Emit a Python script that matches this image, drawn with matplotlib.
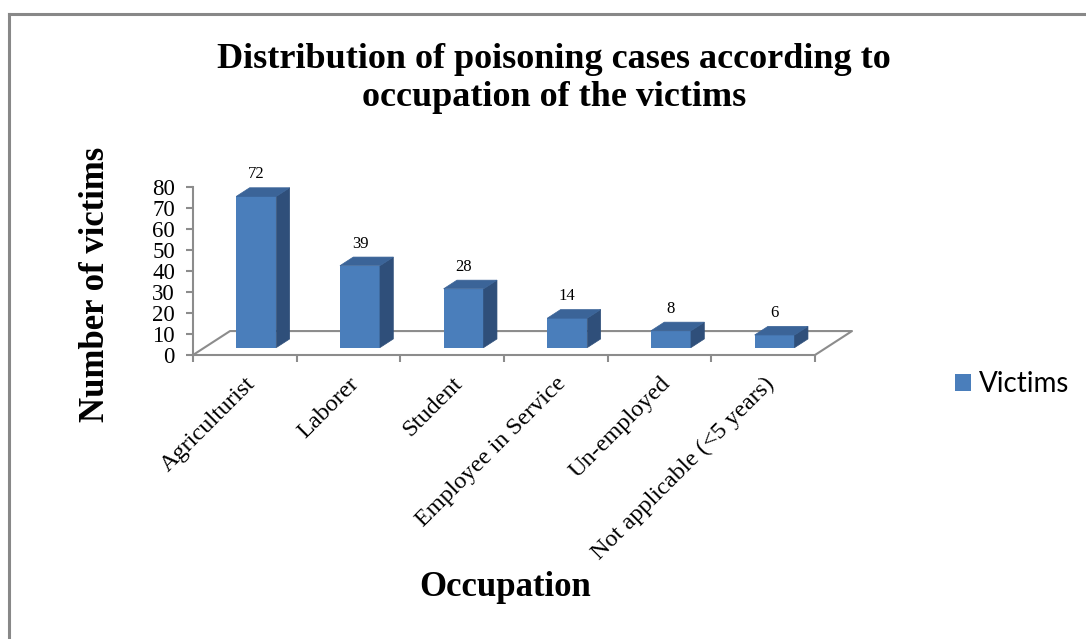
import matplotlib.pyplot as plt
from matplotlib.patches import Polygon
from matplotlib.lines import Line2D
import numpy as np

categories = ["Agriculturist", "Laborer", "Student", "Employee in Service",
              "Un-employed", "Not applicable (<5 years)"]
victims = [72, 39, 28, 14, 8, 6]
yticks = [0, 10, 20, 30, 40, 50, 60, 70, 80]

FRONT = "#4A7EBB"
SIDE = "#2F4F7A"
TOP = "#3B6498"
GREY = "#8C8C8C"

# fake 3d: floor depth vector in data units, and bar slice of that depth
DX, DY = 0.357, 11.4
D0, D1 = 0.31, 0.67
BW = 0.386

plt.rcParams["font.family"] = ["Liberation Serif", "DejaVu Serif"]

W, H = 1086, 639
fig = plt.figure(figsize=(W / 100, H / 100), dpi=100)
ax = fig.add_axes([193 / W, 1 - 355 / H, 622 / W, 168 / H])
n = len(categories)
ax.set_xlim(0, n)
ax.set_ylim(0, 80)

# floor outline
ax.plot([0, DX, n + DX, n], [0, DY, DY, 0], color=GREY, lw=1.5,
        clip_on=False, zorder=1)

xs = np.arange(n) + 0.5 - BW / 2
vals = np.array(victims)
ddx, ddy = (D1 - D0) * DX, (D1 - D0) * DY
bars = ax.bar(xs + D0 * DX, vals, width=BW, bottom=D0 * DY, align="edge",
              color=FRONT, zorder=3, label="Victims")
for x, v in zip(xs, vals):
    x0, y0 = x + D0 * DX, D0 * DY
    side = [(x0 + BW, y0), (x0 + BW + ddx, y0 + ddy),
            (x0 + BW + ddx, y0 + v + ddy), (x0 + BW, y0 + v)]
    top = [(x0, y0 + v), (x0 + ddx, y0 + v + ddy),
           (x0 + BW + ddx, y0 + v + ddy), (x0 + BW, y0 + v)]
    ax.add_patch(Polygon(side, facecolor=SIDE, edgecolor=SIDE, lw=0.5, zorder=3, clip_on=False))
    ax.add_patch(Polygon(top, facecolor=TOP, edgecolor=TOP, lw=0.5, zorder=3, clip_on=False))
    ax.annotate(str(v), (x0 + BW / 2, y0 + v + ddy), xytext=(0, 4),
                textcoords="offset points", ha="center", va="bottom",
                fontsize=12, annotation_clip=False)

for s in ["top", "right"]:
    ax.spines[s].set_visible(False)
for s in ["left", "bottom"]:
    ax.spines[s].set_color(GREY)
    ax.spines[s].set_linewidth(1.5)

ax.set_yticks(yticks)
ax.tick_params(axis="y", direction="out", length=5, width=1.5, color=GREY,
               labelsize=16.5, pad=8)
ax.set_xticks(range(n + 1))
ax.set_xticklabels([])
ax.tick_params(axis="x", which="major", direction="out", length=5, width=1.5, color=GREY)
ax.set_xticks(np.arange(n) + 0.5, minor=True)
ax.set_xticklabels(categories, minor=True, rotation=45, ha="right",
                   rotation_mode="anchor", fontsize=17.5)
ax.tick_params(axis="x", which="minor", length=0, pad=13)

fig.text(554 / W, 1 - 60 / H, "Distribution of poisoning cases according to",
         ha="center", va="center", fontsize=26, weight="bold")
fig.text(554 / W, 1 - 98 / H, "occupation of the victims",
         ha="center", va="center", fontsize=26, weight="bold")
fig.text(96 / W, 1 - 284 / H, "Number of victims", rotation=90,
         ha="center", va="center", fontsize=25, weight="bold")
fig.text(505 / W, 1 - 587 / H, "Occupation",
         ha="center", va="center", fontsize=25, weight="bold")

fig.legend(handles=[bars], loc="center left", bbox_to_anchor=(955 / W, 1 - 384 / H),
           frameon=False, borderpad=0, borderaxespad=0, handlelength=0.58,
           handleheight=0.58, handletextpad=0.28, prop={"family": "Lato", "size": 20})

# chart area border (only left and top edges show in the crop)
fig.add_artist(Line2D([9 / W, 9 / W], [0, 1 - 14 / H], transform=fig.transFigure,
                      color="#888888", lw=2.2))
fig.add_artist(Line2D([9 / W, 1], [1 - 14 / H, 1 - 14 / H], transform=fig.transFigure,
                      color="#888888", lw=2.2))

fig.savefig("out.png", dpi=100)
